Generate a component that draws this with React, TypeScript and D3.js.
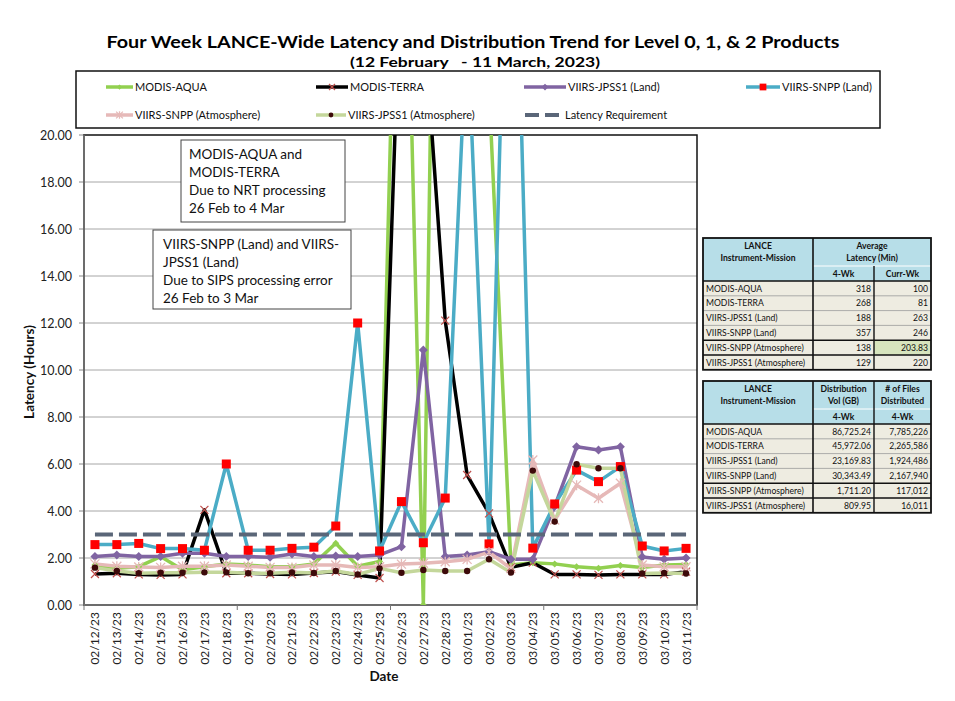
import React from 'react';
import * as d3 from 'd3';

const dates = [
  '02/12/23', '02/13/23', '02/14/23', '02/15/23', '02/16/23', '02/17/23', '02/18/23',
  '02/19/23', '02/20/23', '02/21/23', '02/22/23', '02/23/23', '02/24/23', '02/25/23',
  '02/26/23', '02/27/23', '02/28/23', '03/01/23', '03/02/23', '03/03/23', '03/04/23',
  '03/05/23', '03/06/23', '03/07/23', '03/08/23', '03/09/23', '03/10/23', '03/11/23',
];

const modisAqua = [1.70, 1.56, 1.63, 2.06, 1.50, 1.63, 1.74, 1.70, 1.63, 1.63, 1.75, 2.63, 1.65, 1.85, 38.2, 0.0, 63, 40, 22, 1.70, 1.80, 1.75, 1.63, 1.56, 1.68, 1.60, 1.70, 1.72];
const modisTerra = [1.32, 1.35, 1.30, 1.28, 1.30, 4.05, 1.35, 1.35, 1.32, 1.30, 1.36, 1.42, 1.28, 1.15, 28, 25.2, 12.1, 5.53, 3.9, 1.6, 1.8, 1.3, 1.3, 1.28, 1.3, 1.3, 1.3, 1.42];
const viirsJpss1Land = [2.06, 2.13, 2.06, 2.06, 2.20, 2.20, 2.06, 2.06, 2.03, 2.17, 2.06, 2.08, 2.06, 2.13, 2.48, 10.85, 2.06, 2.13, 2.27, 1.95, 1.95, 4.2, 6.73, 6.60, 6.73, 2.04, 1.95, 2.0];
const viirsSnppLand = [2.57, 2.57, 2.62, 2.40, 2.40, 2.33, 6.0, 2.33, 2.33, 2.41, 2.46, 3.36, 12.0, 2.30, 4.40, 2.65, 4.55, 24.8, 2.60, 37.0, 2.42, 4.30, 5.74, 5.25, 5.89, 2.51, 2.30, 2.41];
const viirsSnppAtmos = [1.75, 1.65, 1.62, 1.60, 1.65, 1.65, 1.70, 1.65, 1.60, 1.60, 1.70, 1.70, 1.60, 1.63, 1.74, 1.78, 1.84, 1.94, 2.25, 1.55, 6.17, 3.62, 5.10, 4.54, 5.18, 1.70, 1.63, 1.63];
const viirsJpss1Atmos = [1.59, 1.45, 1.35, 1.37, 1.37, 1.39, 1.39, 1.35, 1.35, 1.39, 1.36, 1.45, 1.30, 1.56, 1.37, 1.49, 1.45, 1.45, 1.95, 1.38, 5.72, 3.55, 5.99, 5.82, 5.82, 1.34, 1.36, 1.34];
const latencyRequirement = dates.map(() => 3.0);

const yTicks = [0, 2, 4, 6, 8, 10, 12, 14, 16, 18, 20];

const seriesNames = ['MODIS-AQUA', 'MODIS-TERRA', 'VIIRS-JPSS1 (Land)', 'VIIRS-SNPP (Land)', 'VIIRS-SNPP (Atmosphere)', 'VIIRS-JPSS1 (Atmosphere)', 'Latency Requirement'];

// Table data
const tableMissions = ['MODIS-AQUA', 'MODIS-TERRA', 'VIIRS-JPSS1 (Land)', 'VIIRS-SNPP (Land)', 'VIIRS-SNPP (Atmosphere)', 'VIIRS-JPSS1 (Atmosphere)'];
const latency4Wk = ['318', '268', '188', '357', '138', '129'];
const latencyCurrWk = ['100', '81', '263', '246', '203.83', '220'];
const distVolGB = ['86,725.24', '45,972.06', '23,169.83', '30,343.49', '1,711.20', '809.95'];
const filesDistributed = ['7,785,226', '2,265,586', '1,924,486', '2,167,940', '117,012', '16,011'];

const FONT = 'Lato, "Open Sans", sans-serif';

const plot = { left: 84, right: 697, top: 135, bottom: 605 };

type MarkerKind = 'smallDiamond' | 'xRed' | 'diamond' | 'square' | 'star' | 'dot' | 'none';

const styles = [
  { data: modisAqua, color: '#92D050', marker: 'smallDiamond' as MarkerKind, width: 3.5 },
  { data: modisTerra, color: '#000000', marker: 'xRed' as MarkerKind, width: 3.5 },
  { data: viirsJpss1Land, color: '#8064A2', marker: 'diamond' as MarkerKind, width: 3.5 },
  { data: viirsSnppLand, color: '#4BACC6', marker: 'square' as MarkerKind, width: 3.5 },
  { data: viirsSnppAtmos, color: '#E6B9B8', marker: 'star' as MarkerKind, width: 3.5 },
  { data: viirsJpss1Atmos, color: '#C4D79B', marker: 'dot' as MarkerKind, width: 3.5 },
];

function Marker({ kind, cx, cy, s = 1 }: { kind: MarkerKind; cx: number; cy: number; s?: number }) {
  switch (kind) {
    case 'smallDiamond':
      return <path d={`M${cx},${cy - 3.5 * s}L${cx + 3.5 * s},${cy}L${cx},${cy + 3.5 * s}L${cx - 3.5 * s},${cy}Z`} fill="#92D050" />;
    case 'xRed':
      return <path d={`M${cx - 4 * s},${cy - 4 * s}L${cx + 4 * s},${cy + 4 * s}M${cx - 4 * s},${cy + 4 * s}L${cx + 4 * s},${cy - 4 * s}`} stroke="#C0504D" strokeWidth={1.2} />;
    case 'diamond':
      return <path d={`M${cx},${cy - 4.5 * s}L${cx + 4.5 * s},${cy}L${cx},${cy + 4.5 * s}L${cx - 4.5 * s},${cy}Z`} fill="#8064A2" />;
    case 'square':
      return <rect x={cx - 4.5 * s} y={cy - 4.5 * s} width={9 * s} height={9 * s} fill="#FF0000" />;
    case 'star':
      return <path d={`M${cx - 4.5 * s},${cy - 4.5 * s}L${cx + 4.5 * s},${cy + 4.5 * s}M${cx - 4.5 * s},${cy + 4.5 * s}L${cx + 4.5 * s},${cy - 4.5 * s}M${cx},${cy - 5 * s}L${cx},${cy + 5 * s}`} stroke="#E6B9B8" strokeWidth={1.3} />;
    case 'dot':
      return <circle cx={cx} cy={cy} r={3.2 * s} fill="#3D0A0A" />;
    default:
      return null;
  }
}

function Table({ x0, y0, colW, headerTop, headerSub, col2, col3, highlight }: {
  x0: number; y0: number; colW: number[]; headerTop: [string[], string[]]; headerSub: [string, string];
  col2: string[]; col3: string[]; highlight?: [number, number];
}) {
  const h1 = 28, h2 = 15, rh = 14.8;
  const xs = [x0, x0 + colW[0], x0 + colW[0] + colW[1], x0 + colW[0] + colW[1] + colW[2]];
  const totalW = colW[0] + colW[1] + colW[2];
  const totalH = h1 + h2 + rh * tableMissions.length;
  const hdrColor = '#B7DEE8';
  const bodyColor = '#EEECE1';
  const fs = 8.6;
  return (
    <g fontFamily={FONT} fontSize={fs} fill="#111">
      <rect x={x0} y={y0} width={totalW} height={h1 + h2} fill={hdrColor} />
      <rect x={x0} y={y0 + h1 + h2} width={totalW} height={rh * tableMissions.length} fill={bodyColor} />
      {highlight && (
        <rect x={xs[highlight[1]]} y={y0 + h1 + h2 + rh * highlight[0]} width={xs[highlight[1] + 1] - xs[highlight[1]]} height={rh} fill="#D7E4BD" />
      )}
      <text x={(xs[0] + xs[1]) / 2} y={y0 + 11} textAnchor="middle" fontWeight="bold">LANCE</text>
      <text x={(xs[0] + xs[1]) / 2} y={y0 + 23} textAnchor="middle" fontWeight="bold">Instrument-Mission</text>
      {headerTop[0].length === 1 ? (
        <>
          <text x={(xs[1] + xs[3]) / 2} y={y0 + 11} textAnchor="middle" fontWeight="bold">{headerTop[0][0]}</text>
          <text x={(xs[1] + xs[3]) / 2} y={y0 + 23} textAnchor="middle" fontWeight="bold">{headerTop[1][0]}</text>
        </>
      ) : (
        <>
          <text x={(xs[1] + xs[2]) / 2} y={y0 + 11} textAnchor="middle" fontWeight="bold">{headerTop[0][0]}</text>
          <text x={(xs[1] + xs[2]) / 2} y={y0 + 23} textAnchor="middle" fontWeight="bold">{headerTop[1][0]}</text>
          <text x={(xs[2] + xs[3]) / 2} y={y0 + 11} textAnchor="middle" fontWeight="bold">{headerTop[0][1]}</text>
          <text x={(xs[2] + xs[3]) / 2} y={y0 + 23} textAnchor="middle" fontWeight="bold">{headerTop[1][1]}</text>
        </>
      )}
      <text x={(xs[1] + xs[2]) / 2} y={y0 + h1 + 11} textAnchor="middle" fontWeight="bold">{headerSub[0]}</text>
      <text x={(xs[2] + xs[3]) / 2} y={y0 + h1 + 11} textAnchor="middle" fontWeight="bold">{headerSub[1]}</text>
      {tableMissions.map((m, i) => {
        const ry = y0 + h1 + h2 + rh * i;
        return (
          <g key={m}>
            <text x={xs[0] + 3} y={ry + 10.5}>{m}</text>
            <text x={xs[2] - 3} y={ry + 10.5} textAnchor="end">{col2[i]}</text>
            <text x={xs[3] - 3} y={ry + 10.5} textAnchor="end">{col3[i]}</text>
            {i > 0 && (
              <line x1={x0} x2={x0 + totalW} y1={ry} y2={ry} stroke={i >= 4 ? '#111' : '#9a9a9a'} strokeWidth={i >= 4 ? 1.4 : 0.8} />
            )}
          </g>
        );
      })}
      <line x1={xs[1]} x2={xs[3]} y1={y0 + h1} y2={y0 + h1} stroke="#fff" strokeWidth={1} />
      <line x1={x0} x2={x0 + totalW} y1={y0 + h1 + h2} y2={y0 + h1 + h2} stroke="#111" strokeWidth={1.4} />
      {headerTop[0].length === 1 ? (
        <line x1={xs[2]} x2={xs[2]} y1={y0 + h1} y2={y0 + totalH} stroke="#111" strokeWidth={1.4} />
      ) : (
        <line x1={xs[2]} x2={xs[2]} y1={y0} y2={y0 + totalH} stroke="#111" strokeWidth={1.4} />
      )}
      <line x1={xs[1]} x2={xs[1]} y1={y0} y2={y0 + totalH} stroke="#111" strokeWidth={1.6} />
      <rect x={x0} y={y0} width={totalW} height={totalH} fill="none" stroke="#111" strokeWidth={1.8} />
    </g>
  );
}

export default function App() {
  const x = d3.scalePoint<string>().domain(dates).range([plot.left, plot.right]).padding(0.5);
  const y = d3.scaleLinear().domain([0, 20]).range([plot.bottom, plot.top]);
  const step = x.step();
  const line = d3.line<number>().x((_, i) => x(dates[i]) as number).y((d) => y(d));

  const legendItems = [
    { i: 0, x0: 106, x1: 133, tx: 135, y: 87 },
    { i: 1, x0: 316, x1: 348, tx: 350, y: 87 },
    { i: 2, x0: 524, x1: 566, tx: 568, y: 87 },
    { i: 3, x0: 746, x1: 780, tx: 782, y: 87 },
    { i: 4, x0: 106, x1: 133, tx: 135, y: 115 },
    { i: 5, x0: 316, x1: 346, tx: 348, y: 115 },
    { i: 6, x0: 525, x1: 563, tx: 565, y: 115 },
  ];

  const xTickIdx = [0, 7, 14, 21, 28];

  return (
    <svg width={955} height={701} style={{ position: 'absolute', left: 0, top: 0, background: '#fff' }} fontFamily={FONT}>
      <defs>
        <clipPath id="plotClip">
          <rect x={plot.left} y={plot.top} width={plot.right - plot.left} height={plot.bottom - plot.top} />
        </clipPath>
      </defs>
      <rect x={0} y={0} width={955} height={701} fill="#fff" />

      {/* Title */}
      <text x={473} y={48} textAnchor="middle" fontSize={17} fontWeight="bold" fill="#000" textLength={733} lengthAdjust="spacingAndGlyphs">
        Four Week LANCE-Wide Latency and Distribution Trend for Level 0, 1, &amp; 2 Products
      </text>
      <text x={475} y={67} textAnchor="middle" fontSize={13} fontWeight="bold" fill="#000" style={{ whiteSpace: 'pre' }} textLength={250} lengthAdjust="spacingAndGlyphs">
        {'(12 February   - 11 March, 2023)'}
      </text>

      {/* Legend box */}
      <rect x={76} y={71} width={804} height={57} fill="#fff" stroke="#111" strokeWidth={1.5} />
      {legendItems.map((it) => {
        const cx = (it.x0 + it.x1) / 2;
        if (it.i === 6) {
          return (
            <g key={it.i}>
              <line x1={it.x0} x2={it.x1} y1={it.y} y2={it.y} stroke="#5A6678" strokeWidth={4} strokeDasharray="14,6" />
              <text x={it.tx} y={it.y + 4} fontSize={11} fill="#111">{seriesNames[it.i]}</text>
            </g>
          );
        }
        const s = styles[it.i];
        return (
          <g key={it.i}>
            <line x1={it.x0} x2={it.x1} y1={it.y} y2={it.y} stroke={s.color} strokeWidth={3.5} />
            <Marker kind={s.marker} cx={cx} cy={it.y} s={0.75} />
            <text x={it.tx} y={it.y + 4} fontSize={11} fill="#111">{seriesNames[it.i]}</text>
          </g>
        );
      })}

      {/* Gridlines */}
      {yTicks.map((t) => (
        <g key={t}>
          {t > 0 && t < 20 && <line x1={plot.left} x2={plot.right} y1={y(t)} y2={y(t)} stroke="#A6A6A6" strokeWidth={1} />}
          <line x1={plot.left - 5} x2={plot.left} y1={y(t)} y2={y(t)} stroke="#888" strokeWidth={1} />
          <text x={72} y={y(t) + 4.5} textAnchor="end" fontSize={12.5} fill="#222">{t.toFixed(2)}</text>
        </g>
      ))}

      {/* Plot border */}
      <rect x={plot.left} y={plot.top} width={plot.right - plot.left} height={plot.bottom - plot.top} fill="none" stroke="#111" strokeWidth={1.5} />
      <line x1={plot.left} x2={plot.left} y1={plot.top} y2={plot.bottom} stroke="#777" strokeWidth={1.5} />
      <line x1={plot.left} x2={plot.right} y1={plot.bottom} y2={plot.bottom} stroke="#777" strokeWidth={1.5} />
      {xTickIdx.map((k) => (
        <line key={k} x1={plot.left + k * step} x2={plot.left + k * step} y1={plot.bottom} y2={plot.bottom + 5} stroke="#777" strokeWidth={1} />
      ))}

      {/* Series */}
      <g clipPath="url(#plotClip)">
        {styles.map((s, si) => (
          <path key={si} d={line(s.data) || ''} fill="none" stroke={s.color} strokeWidth={s.width} strokeLinejoin="round" />
        ))}
        {styles.map((s, si) => (
          <g key={'m' + si}>
            {s.data.map((v, i) => (v <= 20 ? <Marker key={i} kind={s.marker} cx={x(dates[i]) as number} cy={y(v)} /> : null))}
          </g>
        ))}
        <path d={line(latencyRequirement) || ''} fill="none" stroke="#5A6678" strokeWidth={4} strokeDasharray="18,6" />
      </g>

      {/* X labels */}
      {dates.map((d) => (
        <text key={d} transform={`translate(${(x(d) as number) + 4.5},612) rotate(-90)`} textAnchor="end" fontSize={12} fill="#222">{d}</text>
      ))}
      <text x={384} y={681} textAnchor="middle" fontSize={13.5} fontWeight="bold" fill="#111">Date</text>
      <text transform="translate(34,372) rotate(-90)" textAnchor="middle" fontSize={13.5} fontWeight="bold" fill="#111">Latency (Hours)</text>

      {/* Annotation boxes */}
      <g fontSize={13.5} fill="#111">
        <rect x={181} y={140} width={164} height={82} fill="#fff" stroke="#444" strokeWidth={1} />
        <text x={189} y={159}>MODIS-AQUA and</text>
        <text x={189} y={177}>MODIS-TERRA</text>
        <text x={189} y={195}>Due to NRT processing</text>
        <text x={189} y={213}>26 Feb to 4 Mar</text>
        <rect x={153} y={230} width={198} height={79} fill="#fff" stroke="#444" strokeWidth={1} />
        <text x={163} y={249}>VIIRS-SNPP (Land) and VIIRS-</text>
        <text x={163} y={267}>JPSS1 (Land)</text>
        <text x={163} y={285}>Due to SIPS processing error</text>
        <text x={163} y={303}>26 Feb to 3 Mar</text>
      </g>

      {/* Tables */}
      <Table x0={703} y0={238} colW={[110, 61, 57]} headerTop={[['Average'], ['Latency (Min)']]} headerSub={['4-Wk', 'Curr-Wk']} col2={latency4Wk} col3={latencyCurrWk} highlight={[4, 2]} />
      <Table x0={703} y0={381} colW={[110, 61, 57]} headerTop={[['Distribution', '# of Files'], ['Vol (GB)', 'Distributed']]} headerSub={['4-Wk', '4-Wk']} col2={distVolGB} col3={filesDistributed} />
    </svg>
  );
}
